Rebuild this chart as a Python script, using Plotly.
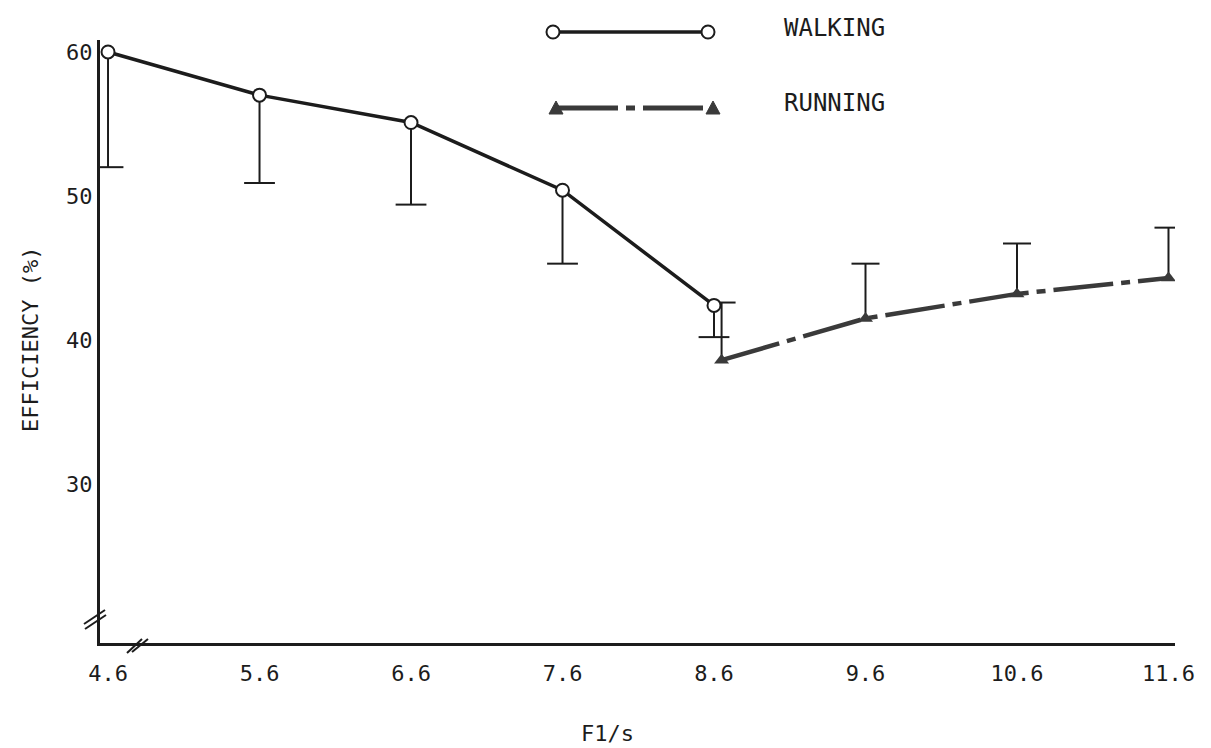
import plotly.graph_objects as go

# Efficiency vs. speed for walking and running
walk_speed = [4.6, 5.6, 6.6, 7.6, 8.6]
walk_eff = [60.0, 57.0, 55.1, 50.4, 42.4]
walk_sd = [8.0, 6.1, 5.7, 5.1, 2.2]

run_speed = [8.6, 9.6, 10.6, 11.6]
run_eff = [38.6, 41.5, 43.2, 44.3]
run_sd = [4.0, 3.8, 3.5, 3.5]

x_ticks = [4.6, 5.6, 6.6, 7.6, 8.6, 9.6, 10.6, 11.6]
x_ticktext = ["4.6", "5.6", "6.6", "7.6", "8.6", "9.6", "10.6", "11.6"]
y_ticks = [30, 40, 50, 60]

INK = "#1c1c1c"
RUN_INK = "#3a3a3a"
FONT = "DejaVu Sans Mono"
RUN_DASH = "60px,8px,9px,8px"

W, H = 1211, 748
M = dict(l=100, r=36, t=40, b=105)
PW = W - M["l"] - M["r"]
PH = H - M["t"] - M["b"]


def px(xp):
    return (xp - M["l"]) / PW


def py(yp):
    return (H - M["b"] - yp) / PH


# nudge the running point that shares a speed with walking so both bars show
run_x = [s + 0.05 if s in walk_speed else s for s in run_speed]

fig = go.Figure()

# one-sided SD bars: walking downward, running upward
fig.add_trace(go.Scatter(
    x=walk_speed, y=walk_eff, mode="none", showlegend=False, hoverinfo="skip",
    error_y=dict(type="data", symmetric=False, array=[0] * len(walk_sd),
                 arrayminus=walk_sd, width=0, thickness=2, color=INK),
))
fig.add_trace(go.Scatter(
    x=walk_speed, y=[e - s for e, s in zip(walk_eff, walk_sd)], mode="markers",
    showlegend=False, hoverinfo="skip",
    marker=dict(symbol="line-ew", size=22, line=dict(width=2, color=INK)),
))
fig.add_trace(go.Scatter(
    x=run_x, y=run_eff, mode="none", showlegend=False, hoverinfo="skip",
    error_y=dict(type="data", symmetric=False, array=run_sd,
                 arrayminus=[0] * len(run_sd), width=0, thickness=2, color=INK),
))
fig.add_trace(go.Scatter(
    x=run_x, y=[e + s for e, s in zip(run_eff, run_sd)], mode="markers",
    showlegend=False, hoverinfo="skip",
    marker=dict(symbol="line-ew", size=20, line=dict(width=2, color=INK)),
))

# series lines
fig.add_trace(go.Scatter(
    x=run_x, y=run_eff, mode="lines+markers", name="RUNNING", showlegend=False,
    line=dict(color=RUN_INK, width=4.5, dash=RUN_DASH),
    marker=dict(symbol="triangle-up", size=13, color=RUN_INK),
))
fig.add_trace(go.Scatter(
    x=walk_speed, y=walk_eff, mode="lines+markers", name="WALKING", showlegend=False,
    line=dict(color=INK, width=3.5),
    marker=dict(symbol="circle", size=13, color="white", line=dict(width=2, color=INK)),
    cliponaxis=False,
))

shapes = []

# hand-drawn style key
def seg(x0, y0, x1, y1, width, color=INK, dash="solid"):
    shapes.append(dict(type="line", xref="paper", yref="paper",
                       x0=px(x0), y0=py(y0), x1=px(x1), y1=py(y1),
                       line=dict(color=color, width=width, dash=dash)))


seg(553, 32, 708, 32, 3.5)
for cx in (553, 708):
    shapes.append(dict(type="circle", xref="paper", yref="paper",
                       xsizemode="pixel", ysizemode="pixel",
                       xanchor=px(cx), yanchor=py(32),
                       x0=-6.5, x1=6.5, y0=-6.5, y1=6.5,
                       fillcolor="white", line=dict(color=INK, width=2)))

seg(558, 108, 710, 108, 5, color=RUN_INK, dash=RUN_DASH)
for cx in (556, 713):
    shapes.append(dict(type="path", xref="paper", yref="paper",
                       xsizemode="pixel", ysizemode="pixel",
                       xanchor=px(cx), yanchor=py(108),
                       path="M-7,-6 L7,-6 L0,7 Z",
                       fillcolor=RUN_INK, line=dict(color=RUN_INK, width=1)))

# axis break marks
seg(84, 624, 105, 610, 2)
seg(85, 629, 106, 615, 2)
seg(127, 653, 142, 639, 2)
seg(132, 652, 148, 639, 2)

annotations = [
    dict(text="WALKING", x=px(782), y=py(28), xref="paper", yref="paper",
         xanchor="left", yanchor="middle", showarrow=False,
         font=dict(family=FONT, size=24, color=INK)),
    dict(text="RUNNING", x=px(782), y=py(103), xref="paper", yref="paper",
         xanchor="left", yanchor="middle", showarrow=False,
         font=dict(family=FONT, size=24, color=INK)),
    dict(text="EFFICIENCY (%)", x=px(30), y=py(340), xref="paper", yref="paper",
         xanchor="center", yanchor="middle", textangle=-90, showarrow=False,
         font=dict(family=FONT, size=22, color=INK)),
    dict(text="F1/s", x=px(607), y=py(733), xref="paper", yref="paper",
         xanchor="center", yanchor="middle", showarrow=False,
         font=dict(family=FONT, size=22, color=INK)),
]

fig.update_layout(
    width=W, height=H, margin=M,
    paper_bgcolor="white", plot_bgcolor="white",
    showlegend=False,
    shapes=shapes, annotations=annotations,
    xaxis=dict(range=[4.547, 11.643], tickvals=x_ticks, ticktext=x_ticktext,
               showgrid=False, zeroline=False, showline=True, linewidth=3,
               linecolor=INK, ticks="", ticklabelstandoff=9,
               tickfont=dict(family=FONT, size=22, color=INK)),
    yaxis=dict(range=[18.96, 60.83], tickvals=y_ticks,
               showgrid=False, zeroline=False, showline=True, linewidth=3,
               linecolor=INK, ticks="", ticklabelstandoff=0,
               tickfont=dict(family=FONT, size=22, color=INK)),
)

fig.write_html("out.html")
